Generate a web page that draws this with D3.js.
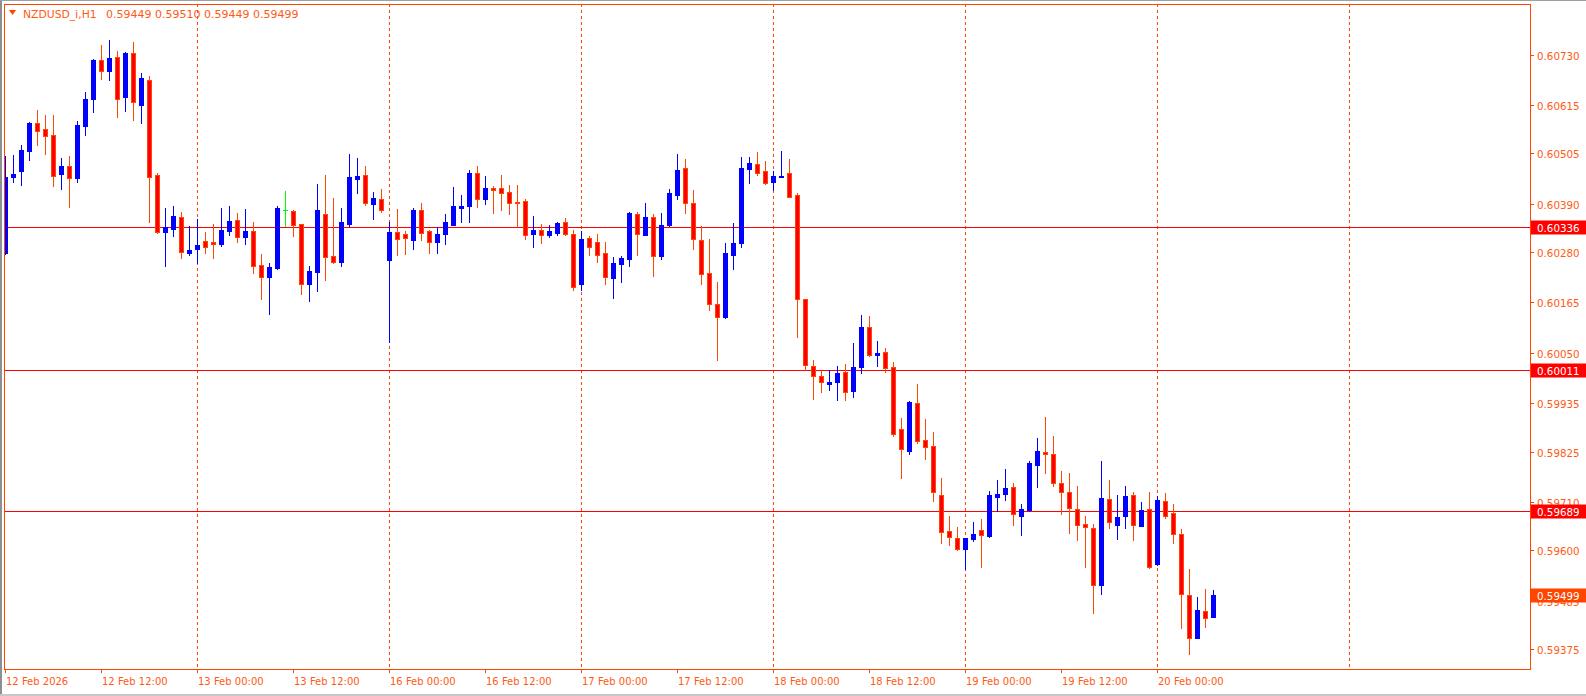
<!DOCTYPE html>
<html><head><meta charset="utf-8">
<script src="https://cdn.jsdelivr.net/npm/d3@7"></script>
<style>html,body{margin:0;padding:0;background:#fff;overflow:hidden}</style>
</head><body><svg id="c" width="1586" height="696"></svg>
<script>
const symbol = "NZDUSD_i,H1";
const open = [0.60278,0.60451,0.60465,0.60511,0.60573,0.60560,0.60547,0.60458,0.60476,0.60449,
0.60567,0.60629,0.60717,0.60693,0.60724,0.60632,0.60733,0.60616,0.60673,0.60455,
0.60326,0.60332,0.60360,0.60278,0.60287,0.60305,0.60303,0.60299,0.60328,0.60353,
0.60315,0.60328,0.60250,0.60224,0.60244,0.60375,0.60373,0.60343,0.60208,0.60235,
0.60366,0.60270,0.60258,0.60344,0.60447,0.60455,0.60390,0.60401,0.60262,0.60325,
0.60321,0.60308,0.60376,0.60328,0.60303,0.60322,0.60342,0.60381,0.60385,0.60460,
0.60401,0.60426,0.60426,0.60417,0.60394,0.60396,0.60321,0.60330,0.60319,0.60323,
0.60348,0.60321,0.60207,0.60312,0.60303,0.60277,0.60221,0.60253,0.60265,0.60366,
0.60319,0.60359,0.60271,0.60341,0.60410,0.60471,0.60392,0.60307,0.60231,0.60161,
0.60132,0.60274,0.60301,0.60470,0.60480,0.60464,0.60440,0.60450,0.60459,0.60409,
0.60172,0.60019,0.59997,0.59980,0.59983,0.60006,0.59962,0.60017,0.60108,0.60044,
0.60052,0.60018,0.59876,0.59827,0.59935,0.59851,0.59837,0.59725,0.59643,0.59627,
0.59602,0.59626,0.59646,0.59633,0.59722,0.59729,0.59744,0.59679,0.59692,0.59794,
0.59823,0.59819,0.59753,0.59732,0.59693,0.59659,0.59650,0.59522,0.59716,0.59658,
0.59677,0.59725,0.59656,0.59693,0.59569,0.59712,0.59684,0.59636,0.59497,0.59401,
0.59461,0.59449];
const high = [0.60499,0.60501,0.60524,0.60576,0.60604,0.60592,0.60592,0.60494,0.60499,0.60579,
0.60645,0.60719,0.60752,0.60763,0.60738,0.60735,0.60758,0.60688,0.60681,0.60461,
0.60380,0.60385,0.60371,0.60339,0.60355,0.60325,0.60344,0.60380,0.60385,0.60369,
0.60378,0.60348,0.60275,0.60255,0.60385,0.60419,0.60375,0.60344,0.60248,0.60435,
0.60455,0.60403,0.60380,0.60503,0.60494,0.60476,0.60417,0.60423,0.60349,0.60378,
0.60328,0.60380,0.60392,0.60330,0.60337,0.60366,0.60428,0.60410,0.60467,0.60476,
0.60453,0.60430,0.60455,0.60433,0.60433,0.60401,0.60362,0.60344,0.60341,0.60349,
0.60357,0.60330,0.60328,0.60316,0.60321,0.60303,0.60268,0.60271,0.60371,0.60370,
0.60392,0.60366,0.60369,0.60423,0.60503,0.60492,0.60421,0.60339,0.60309,0.60211,
0.60300,0.60346,0.60496,0.60496,0.60508,0.60487,0.60464,0.60510,0.60492,0.60414,
0.60173,0.60034,0.60010,0.60011,0.60019,0.60025,0.60072,0.60136,0.60134,0.60077,
0.60061,0.60029,0.59902,0.59940,0.59979,0.59899,0.59870,0.59765,0.59677,0.59654,
0.59628,0.59664,0.59671,0.59735,0.59760,0.59785,0.59753,0.59705,0.59803,0.59856,
0.59904,0.59860,0.59781,0.59776,0.59747,0.59678,0.59660,0.59803,0.59760,0.59726,
0.59747,0.59733,0.59710,0.59733,0.59723,0.59731,0.59705,0.59649,0.59557,0.59494,
0.59512,0.59510];
const low = [0.60276,0.60440,0.60433,0.60490,0.60524,0.60503,0.60430,0.60423,0.60383,0.60439,
0.60547,0.60600,0.60674,0.60672,0.60588,0.60602,0.60581,0.60575,0.60348,0.60323,
0.60248,0.60316,0.60266,0.60274,0.60254,0.60278,0.60266,0.60294,0.60319,0.60303,
0.60298,0.60233,0.60173,0.60139,0.60242,0.60340,0.60317,0.60183,0.60169,0.60192,
0.60217,0.60255,0.60249,0.60338,0.60415,0.60388,0.60356,0.60372,0.60075,0.60274,
0.60276,0.60287,0.60307,0.60278,0.60278,0.60299,0.60342,0.60349,0.60349,0.60383,
0.60390,0.60369,0.60376,0.60366,0.60336,0.60310,0.60292,0.60301,0.60315,0.60319,
0.60319,0.60193,0.60193,0.60273,0.60258,0.60207,0.60176,0.60212,0.60248,0.60273,
0.60319,0.60225,0.60265,0.60339,0.60401,0.60369,0.60287,0.60207,0.60148,0.60034,
0.60130,0.60242,0.60292,0.60436,0.60456,0.60435,0.60422,0.60450,0.60405,0.60087,
0.60011,0.59944,0.59960,0.59966,0.59943,0.59943,0.59950,0.60003,0.60042,0.60019,
0.60006,0.59860,0.59765,0.59820,0.59844,0.59809,0.59713,0.59617,0.59613,0.59601,
0.59557,0.59622,0.59563,0.59631,0.59690,0.59715,0.59658,0.59635,0.59690,0.59745,
0.59777,0.59747,0.59683,0.59640,0.59624,0.59563,0.59458,0.59501,0.59651,0.59626,
0.59651,0.59624,0.59655,0.59560,0.59567,0.59673,0.59617,0.59424,0.59363,0.59400,
0.59426,0.59449];
const close = [0.60451,0.60458,0.60512,0.60575,0.60556,0.60545,0.60454,0.60476,0.60449,0.60569,
0.60629,0.60717,0.60693,0.60722,0.60629,0.60733,0.60621,0.60676,0.60451,0.60325,
0.60336,0.60362,0.60280,0.60284,0.60296,0.60292,0.60299,0.60330,0.60351,0.60315,
0.60328,0.60249,0.60224,0.60246,0.60380,0.60375,0.60342,0.60208,0.60237,0.60376,
0.60268,0.60258,0.60348,0.60451,0.60453,0.60392,0.60403,0.60376,0.60325,0.60310,
0.60312,0.60376,0.60324,0.60303,0.60321,0.60348,0.60385,0.60385,0.60460,0.60401,
0.60426,0.60422,0.60415,0.60392,0.60392,0.60319,0.60330,0.60319,0.60328,0.60346,
0.60322,0.60201,0.60309,0.60292,0.60274,0.60222,0.60255,0.60266,0.60369,0.60320,
0.60360,0.60271,0.60341,0.60414,0.60467,0.60391,0.60309,0.60230,0.60161,0.60132,
0.60278,0.60300,0.60471,0.60483,0.60461,0.60436,0.60453,0.60453,0.60406,0.60172,
0.60022,0.59997,0.59983,0.59983,0.60003,0.59960,0.60017,0.60108,0.60044,0.60049,
0.60015,0.59864,0.59830,0.59937,0.59850,0.59835,0.59732,0.59642,0.59630,0.59602,
0.59627,0.59636,0.59634,0.59725,0.59728,0.59742,0.59682,0.59693,0.59799,0.59826,
0.59819,0.59753,0.59732,0.59696,0.59657,0.59652,0.59522,0.59719,0.59664,0.59676,
0.59724,0.59657,0.59692,0.59561,0.59715,0.59677,0.59636,0.59500,0.59399,0.59463,
0.59445,0.59499];
const priceTicks = [0.60730,0.60615,0.60505,0.60390,0.60280,0.60165,0.60050,0.59935,0.59825,0.59710,0.59600,0.59485,0.59375];
const levels = [0.60336, 0.60011, 0.59689];
const timeLabels = ["12 Feb 2026","12 Feb 12:00","13 Feb 00:00","13 Feb 12:00","16 Feb 00:00","16 Feb 12:00",
  "17 Feb 00:00","17 Feb 12:00","18 Feb 00:00","18 Feb 12:00","19 Feb 00:00","19 Feb 12:00","20 Feb 00:00"];
const labelStep = 12, gridStep = 24, gridCount = 7;

const W = 1586, H = 696;
const L = 4, R = 1530, T = 4, B = 669;
const FONT = "DejaVu Sans";
const ORANGE = "#FF4500", TXT = "#FF5A14", BLUE = "#0000FF", RED = "#FF0000", GREEN = "#00FF00";

const svg = d3.select("#c");
const n = open.length;
const x = d3.scaleLinear().domain([0, n - 1]).range([5.5, 5.5 + 8 * (n - 1)]);
const y = d3.scaleLinear().domain([0.59375, 0.60730]).range([649, 54.5]);

svg.append("rect").attr("width", W).attr("height", H).attr("fill", "#fff");
svg.append("rect").attr("x", 0).attr("y", 0).attr("width", 2).attr("height", H).attr("fill", "#8f8f8f");
svg.append("rect").attr("x", 0).attr("y", 0).attr("width", W).attr("height", 1).attr("fill", "#a0a0a0");
svg.append("rect").attr("x", 0).attr("y", H - 2).attr("width", W).attr("height", 2).attr("fill", "#c8c8c8");

svg.append("clipPath").attr("id", "clip").append("rect")
  .attr("x", L + 1).attr("y", T + 1).attr("width", R - L - 1).attr("height", B - T - 1);
const plot = svg.append("g").attr("clip-path", "url(#clip)");

for (let k = 1; k <= gridCount; k++) {
  const gx = Math.round(x(k * gridStep) - 0.5) + 0.5;
  plot.append("line").attr("x1", gx).attr("x2", gx).attr("y1", T).attr("y2", B)
    .attr("stroke", ORANGE).attr("stroke-width", 1).attr("stroke-dasharray", "3,3");
}

levels.forEach(v => {
  const ly = Math.round(y(v)) + 0.5;
  plot.append("line").attr("x1", L).attr("x2", R).attr("y1", ly).attr("y2", ly)
    .attr("stroke", RED).attr("stroke-width", 1);
});

const g = plot.append("g");
d3.range(n).forEach(i => {
  const o = open[i], c = close[i];
  const cx = x(i);
  const col = c > o ? BLUE : (c < o ? ORANGE : GREEN);
  const yh = Math.round(y(high[i])), yl = Math.round(y(low[i]));
  g.append("line").attr("x1", cx).attr("x2", cx).attr("y1", yh).attr("y2", yl + 1)
    .attr("stroke", col).attr("stroke-width", 1);
  const top = Math.round(y(Math.max(o, c))), bot = Math.round(y(Math.min(o, c)));
  if (c > o) {
    g.append("rect").attr("x", cx - 2.5).attr("y", top).attr("width", 5)
      .attr("height", Math.max(1, bot - top + 1)).attr("fill", BLUE);
  } else if (c < o) {
    g.append("rect").attr("x", cx - 2).attr("y", top + 0.5).attr("width", 4)
      .attr("height", Math.max(0, bot - top)).attr("fill", RED)
      .attr("stroke", ORANGE).attr("stroke-width", 1);
  } else {
    g.append("rect").attr("x", cx - 2.5).attr("y", top).attr("width", 5).attr("height", 1).attr("fill", GREEN);
  }
});

svg.append("rect").attr("x", L + 0.5).attr("y", T + 0.5).attr("width", R - L).attr("height", B - T)
  .attr("fill", "none").attr("stroke", ORANGE).attr("stroke-width", 1);

priceTicks.forEach(v => {
  const ty = Math.round(y(v)) + 0.5;
  svg.append("line").attr("x1", R + 1).attr("x2", R + 4).attr("y1", ty).attr("y2", ty)
    .attr("stroke", ORANGE).attr("stroke-width", 1);
  svg.append("text").attr("x", 1537).attr("y", ty + 4).text(v.toFixed(5))
    .attr("font-family", FONT).attr("font-size", "10.3px").attr("fill", TXT);
});

function tag(v, bg) {
  const ty = Math.round(y(v)) + 0.5;
  svg.append("rect").attr("x", R + 1).attr("y", ty - 7).attr("width", W - R - 1).attr("height", 14).attr("fill", bg);
  svg.append("text").attr("x", 1537).attr("y", ty + 4).text(v.toFixed(5))
    .attr("font-family", FONT).attr("font-size", "10.3px").attr("fill", "#fff");
}
levels.forEach(v => tag(v, RED));
tag(close[n - 1], ORANGE);

timeLabels.forEach((t, k) => {
  const tx = Math.round(x(k * labelStep) - 0.5) + 0.5;
  svg.append("line").attr("x1", tx).attr("x2", tx).attr("y1", B + 1).attr("y2", B + 4)
    .attr("stroke", ORANGE).attr("stroke-width", 1);
  svg.append("text").attr("x", tx + 0.5).attr("y", 685).text(t)
    .attr("font-family", FONT).attr("font-size", "10px").attr("fill", TXT);
});

svg.append("path").attr("d", "M9,10 L16,10 L12.5,15 Z").attr("fill", ORANGE);
svg.append("text").attr("x", 23).attr("y", 18).text(symbol)
  .attr("font-family", FONT).attr("font-size", "10.8px").attr("fill", TXT);
svg.append("text").attr("x", 106).attr("y", 18)
  .text([open[n-1], high[n-1], low[n-1], close[n-1]].map(v => v.toFixed(5)).join(" "))
  .attr("font-family", FONT).attr("font-size", "11px").attr("fill", TXT);
</script></body></html>
